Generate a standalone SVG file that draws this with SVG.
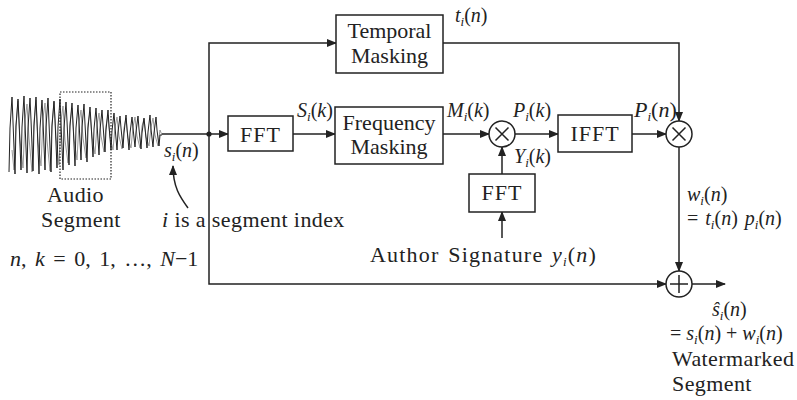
<svg xmlns="http://www.w3.org/2000/svg" width="797" height="400" viewBox="0 0 797 400">
<defs>
<style>
.box{fill:#fff;stroke:#222;stroke-width:1.5}
.ln{fill:none;stroke:#222;stroke-width:1.5}
.op{fill:#fff;stroke:#222;stroke-width:1.5}
text{font-family:"Liberation Serif","Times New Roman",serif;font-size:22px;fill:#222}
.c{text-anchor:middle}
.it{font-style:italic}
.m{font-size:20px}
.s{font-size:13px;font-style:italic}
</style>
<marker id="ah" markerWidth="10" markerHeight="8" refX="9" refY="4" orient="auto" markerUnits="userSpaceOnUse">
<path d="M0,0 L10,4 L0,8 Z" fill="#222"/>
</marker>
</defs>
<rect width="797" height="400" fill="#fff"/>

<g id="waveform">
<path fill="none" stroke="#999" stroke-width="1" d="M12,150 L14,170 L16,125 L18,101 L20,140 L23,168 L25,120 L27,104 L29,138 L32,172 L34,122 L36,100 L38,142 L41,166 L43,118 L45,103 L47,140 L50,171 L52,124 L54,102 L56,137 L59,165 L61,121 L63,106 L65,140 L68,163 L70,123 L72,108 L74,139 L77,160 L79,122 L81,110 L83,138 L86,158 L88,124 L90,112 L92,137 L95,154 L97,125 L99,113 L101,136 L104,152 L106,126 L108,115 L110,137 L113,150 L115,127 L117,117 L119,136 L122,149 L124,128 L126,118 L128,138 L131,148 L133,127 L135,117 L137,136 L140,148 L142,126 L144,119 L146,137 L149,146 L151,127 L153,118 L155,135 L158,146 L160,130 L162,135"/>
<path fill="none" stroke="#222" stroke-width="1" d="M9,172 L10,128 L12,97 L13,122 L15,174 L16,126 L18,99 L19,121 L21,170 L22,127 L24,96 L25,123 L27,173 L28,128 L30,98 L31,120 L33,171 L34,126 L36,97 L37,122 L39,174 L40,128 L42,100 L43,121 L45,170 L46,127 L48,98 L49,123 L51,172 L52,126 L54,101 L55,120 L57,168 L58,127 L60,99 L61,124 L63,170 L64,128 L66,102 L67,121 L69,165 L70,126 L72,103 L73,123 L75,166 L76,128 L78,105 L79,122 L81,160 L82,127 L84,104 L85,124 L87,162 L88,128 L90,107 L91,123 L93,157 L94,129 L96,108 L97,124 L99,155 L100,130 L102,110 L103,125 L105,152 L106,130 L108,110 L109,126 L111,150 L112,131 L114,113 L115,127 L117,150 L118,132 L120,116 L121,128 L123,148 L124,133 L126,115 L127,129 L129,150 L130,133 L132,117 L133,128 L135,147 L136,132 L138,116 L139,129 L141,149 L142,133 L144,118 L145,128 L147,148 L148,132 L150,115 L151,129 L153,147 L154,133 L156,117 L157,130 L159,146 L160,135 L162,135"/>
<rect x="60" y="92" width="51" height="87" fill="none" stroke="#222" stroke-width="1.2" stroke-dasharray="1.5,1.5"/>
</g>

<g id="connectors">
<path class="ln" d="M162,134 H228" marker-end="url(#ah)"/>
<circle cx="209" cy="134" r="2.6" fill="#222"/>
<path class="ln" d="M209,134 V43 H336" marker-end="url(#ah)"/>
<path class="ln" d="M209,134 V284 H666" marker-end="url(#ah)"/>
<path class="ln" d="M293,134 H335" marker-end="url(#ah)"/>
<path class="ln" d="M443,134 H489" marker-end="url(#ah)"/>
<path class="ln" d="M515,134 H558" marker-end="url(#ah)"/>
<path class="ln" d="M632,134 H666" marker-end="url(#ah)"/>
<path class="ln" d="M443,43 H679 V121" marker-end="url(#ah)"/>
<path class="ln" d="M502,174 V147" marker-end="url(#ah)"/>
<path class="ln" d="M502,238 V212" marker-end="url(#ah)"/>
<path class="ln" d="M679,147 V271" marker-end="url(#ah)"/>
<path class="ln" d="M692,284 H725" marker-end="url(#ah)"/>
<path class="ln" d="M188,208 C180,197 173,187 173,166" marker-end="url(#ah)"/>
</g>

<g id="temporal">
<rect class="box" x="336" y="15" width="107" height="58"/>
<text class="c" x="389.5" y="38">Temporal</text>
<text class="c" x="389.5" y="63">Masking</text>
</g>
<g id="fft1">
<rect class="box" x="228" y="116" width="65" height="35"/>
<text class="c" x="260.5" y="142" letter-spacing="1">FFT</text>
</g>
<g id="freq">
<rect class="box" x="335" y="107" width="108" height="57"/>
<text class="c" x="389" y="130">Frequency</text>
<text class="c" x="389" y="154">Masking</text>
</g>
<g id="mult1">
<circle class="op" cx="502" cy="134" r="13"/>
<path class="ln" d="M495.5,127.5 L508.5,140.5 M508.5,127.5 L495.5,140.5" stroke-width="1.2"/>
</g>
<g id="ifft">
<rect class="box" x="558" y="115" width="74" height="37"/>
<text class="c" x="595" y="141" letter-spacing="1">IFFT</text>
</g>
<g id="mult2">
<circle class="op" cx="679" cy="134" r="13"/>
<path class="ln" d="M672.5,127.5 L685.5,140.5 M685.5,127.5 L672.5,140.5" stroke-width="1.2"/>
</g>
<g id="fft2">
<rect class="box" x="469" y="174" width="66" height="38"/>
<text class="c" x="502" y="200" letter-spacing="1">FFT</text>
</g>
<g id="plus">
<circle class="op" cx="679" cy="284" r="13"/>
<path class="ln" d="M670,284 H688 M679,275 V293" stroke-width="1.2"/>
</g>

<g id="labels">
<text class="m" x="455" y="22"><tspan class="it">t</tspan><tspan class="s" baseline-shift="-4">i</tspan>(<tspan class="it">n</tspan>)</text>
<text class="m" x="297" y="117"><tspan class="it">S</tspan><tspan class="s" baseline-shift="-4">i</tspan>(<tspan class="it">k</tspan>)</text>
<text class="m" x="447" y="117"><tspan class="it">M</tspan><tspan class="s" baseline-shift="-4">i</tspan>(<tspan class="it">k</tspan>)</text>
<text class="m" x="513" y="117"><tspan class="it">P</tspan><tspan class="s" baseline-shift="-4">i</tspan>(<tspan class="it">k</tspan>)</text>
<text x="634" y="117" font-size="18"><tspan class="it">P</tspan><tspan class="s" font-size="12" baseline-shift="-4">i</tspan>(<tspan class="it">n</tspan>)</text>
<text class="m" x="514" y="163"><tspan class="it">Y</tspan><tspan class="s" baseline-shift="-4">i</tspan>(<tspan class="it">k</tspan>)</text>
<text class="m" x="164" y="157"><tspan class="it">s</tspan><tspan class="s" baseline-shift="-4">i</tspan>(<tspan class="it">n</tspan>)</text>
<text class="m" x="687" y="201"><tspan class="it">w</tspan><tspan class="s" baseline-shift="-4">i</tspan>(<tspan class="it">n</tspan>)</text>
<text class="m" x="687" y="225" word-spacing="2">= <tspan class="it">t</tspan><tspan class="s" baseline-shift="-4">i</tspan>(<tspan class="it">n</tspan>) <tspan class="it">p</tspan><tspan class="s" baseline-shift="-4">i</tspan>(<tspan class="it">n</tspan>)</text>
<text class="m" x="712" y="316"><tspan class="it">ŝ</tspan><tspan class="s" baseline-shift="-4">i</tspan>(<tspan class="it">n</tspan>)</text>
<text class="m" x="670" y="340">= <tspan class="it">s</tspan><tspan class="s" baseline-shift="-4">i</tspan>(<tspan class="it">n</tspan>) + <tspan class="it">w</tspan><tspan class="s" baseline-shift="-4">i</tspan>(<tspan class="it">n</tspan>)</text>
<text x="672" y="366" letter-spacing="0.4">Watermarked</text>
<text x="672" y="391" letter-spacing="0.4">Segment</text>
<text x="47" y="202" letter-spacing="0.4">Audio</text>
<text x="41" y="227" letter-spacing="0.4">Segment</text>
<text x="162" y="227" letter-spacing="0.4"><tspan class="it">i</tspan> is a segment index</text>
<text x="10" y="266" word-spacing="3"><tspan class="it">n</tspan>, <tspan class="it">k</tspan> = 0, 1, …, <tspan class="it">N</tspan>−1</text>
<text x="370" y="262" letter-spacing="1.2" word-spacing="2">Author Signature <tspan class="it">y</tspan><tspan class="s" baseline-shift="-4">i</tspan>(<tspan class="it">n</tspan>)</text>
</g>
</svg>
